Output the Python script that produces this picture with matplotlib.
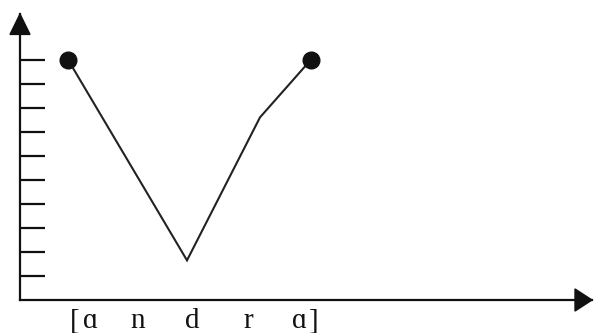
import matplotlib.pyplot as plt
from matplotlib.patches import Polygon

# pitch contour over the word, x in ms-ish units along the word, y in tick steps
times = [48, 167, 240, 291]
pitch = [10.0, 1.65, 7.6, 10.0]
dots = [0, 3]  # endpoints get a filled dot

# segment labels under the x axis (brackets drawn as their own glyphs)
segments = ["[", "ɑ", "n", "d", "r", "ɑ", "]"]
seg_x = [55, 71, 118, 172, 228, 280, 294]

yticks = list(range(1, 11))
XMAX = 572
YMAX = 11.9

fig = plt.figure(figsize=(5.95, 3.33), dpi=100)
ax = fig.add_axes([20 / 595, 33 / 333, XMAX / 595, 286 / 333])
ax.set_xlim(0, XMAX)
ax.set_ylim(0, YMAX)

for s in ["top", "right"]:
    ax.spines[s].set_visible(False)
for s in ["left", "bottom"]:
    ax.spines[s].set_linewidth(1.6)
    ax.spines[s].set_color("#111111")

ax.set_xticks([])
ax.set_yticks(yticks)
ax.set_yticklabels([])
ax.tick_params(axis="y", direction="in", length=18, width=1.6, color="#111111")

# arrow heads on the two axes
ax.add_patch(Polygon([(-10, YMAX - 0.85), (10, YMAX - 0.85), (0, YMAX)],
                     closed=True, color="#111111", clip_on=False))
ax.add_patch(Polygon([(XMAX - 17, 0.46), (XMAX - 17, -0.46), (XMAX, 0)],
                     closed=True, color="#111111", clip_on=False))

ax.plot(times, pitch, color="#222222", lw=1.5, solid_joinstyle="miter")
ax.plot([times[i] for i in dots], [pitch[i] for i in dots], "o",
        color="#111111", ms=12)

for lab, x in zip(segments, seg_x):
    ax.text(x, -1.17, lab, ha="center", va="baseline", fontsize=21,
            family=["Liberation Serif", "DejaVu Serif"], color="#111111",
            clip_on=False)

fig.savefig("out.png", dpi=100)
